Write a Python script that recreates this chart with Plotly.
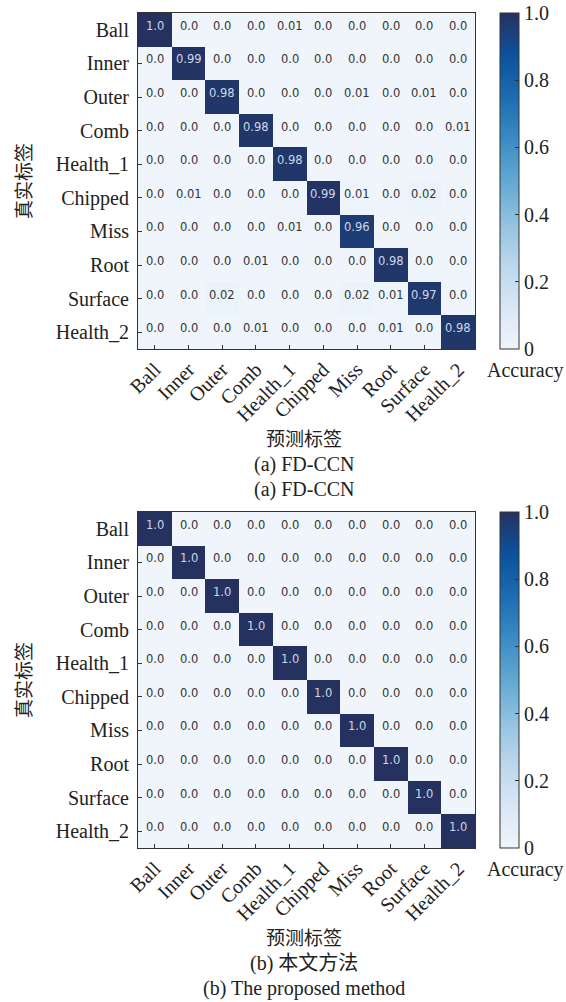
import plotly.graph_objects as go

classes = ["Ball", "Inner", "Outer", "Comb", "Health_1", "Chipped", "Miss", "Root", "Surface", "Health_2"]

fdccn = [
    [1.0, 0.0, 0.0, 0.0, 0.01, 0.0, 0.0, 0.0, 0.0, 0.0],
    [0.0, 0.99, 0.0, 0.0, 0.0, 0.0, 0.0, 0.0, 0.0, 0.0],
    [0.0, 0.0, 0.98, 0.0, 0.0, 0.0, 0.01, 0.0, 0.01, 0.0],
    [0.0, 0.0, 0.0, 0.98, 0.0, 0.0, 0.0, 0.0, 0.0, 0.01],
    [0.0, 0.0, 0.0, 0.0, 0.98, 0.0, 0.0, 0.0, 0.0, 0.0],
    [0.0, 0.01, 0.0, 0.0, 0.0, 0.99, 0.01, 0.0, 0.02, 0.0],
    [0.0, 0.0, 0.0, 0.0, 0.01, 0.0, 0.96, 0.0, 0.0, 0.0],
    [0.0, 0.0, 0.0, 0.01, 0.0, 0.0, 0.0, 0.98, 0.0, 0.0],
    [0.0, 0.0, 0.02, 0.0, 0.0, 0.0, 0.02, 0.01, 0.97, 0.0],
    [0.0, 0.0, 0.0, 0.01, 0.0, 0.0, 0.0, 0.01, 0.0, 0.98],
]

proposed = [
    [1.0, 0.0, 0.0, 0.0, 0.0, 0.0, 0.0, 0.0, 0.0, 0.0],
    [0.0, 1.0, 0.0, 0.0, 0.0, 0.0, 0.0, 0.0, 0.0, 0.0],
    [0.0, 0.0, 1.0, 0.0, 0.0, 0.0, 0.0, 0.0, 0.0, 0.0],
    [0.0, 0.0, 0.0, 1.0, 0.0, 0.0, 0.0, 0.0, 0.0, 0.0],
    [0.0, 0.0, 0.0, 0.0, 1.0, 0.0, 0.0, 0.0, 0.0, 0.0],
    [0.0, 0.0, 0.0, 0.0, 0.0, 1.0, 0.0, 0.0, 0.0, 0.0],
    [0.0, 0.0, 0.0, 0.0, 0.0, 0.0, 1.0, 0.0, 0.0, 0.0],
    [0.0, 0.0, 0.0, 0.0, 0.0, 0.0, 0.0, 1.0, 0.0, 0.0],
    [0.0, 0.0, 0.0, 0.0, 0.0, 0.0, 0.0, 0.0, 1.0, 0.0],
    [0.0, 0.0, 0.0, 0.0, 0.0, 0.0, 0.0, 0.0, 0.0, 1.0],
]

cbar_vals = [0, 0.2, 0.4, 0.6, 0.8, 1.0]
cbar_text = ["0", "0.2", "0.4", "0.6", "0.8", "1.0"]

W, H = 566, 1002
scale = [
    [0.0, "#eff5fb"], [0.125, "#d8e7f5"], [0.25, "#bcd7ec"], [0.375, "#92c2df"],
    [0.5, "#62a8d3"], [0.625, "#3a8bc3"], [0.75, "#1d6cb1"], [0.875, "#0c519c"],
    [1.0, "#25325f"],
]

SERIF = "Liberation Serif, Times New Roman, serif"
CJK = "Noto Sans CJK SC"

def py(px):
    return 1 - px / H

fig = go.Figure()
xdom = [138 / W, 475 / W]
panels = [
    dict(z=fdccn, top=13, bot=349, xa="x", ya="y", ca="coloraxis",
         sub=["(a) FD-CCN", "(a) FD-CCN"]),
    dict(z=proposed, top=512, bot=848, xa="x2", ya="y2", ca="coloraxis2",
         sub=["(b) 本文方法", "(b) The proposed method"]),
]

annotations = []
cx = 0.5 * (xdom[0] + xdom[1]) - 0.004
for i, p in enumerate(panels):
    fig.add_trace(go.Heatmap(z=p["z"], x=classes, y=classes, xaxis=p["xa"], yaxis=p["ya"],
                             coloraxis=p["ca"], xgap=0, ygap=0, hoverinfo="skip"))
    for r, row in enumerate(p["z"]):
        for c, v in enumerate(row):
            annotations.append(dict(
                x=classes[c], y=classes[r], xref=p["xa"], yref=p["ya"], text=str(v),
                showarrow=False, yshift=4,
                font=dict(family="DejaVu Sans", size=11.5,
                          color="#cfd7e6" if v > 0.5 else "#333333")))
    annotations.append(dict(x=cx, y=py(p["bot"] + 88), xref="paper", yref="paper",
                            text="预测标签", showarrow=False, yanchor="middle",
                            font=dict(family=CJK, size=19, color="#222")))
    annotations.append(dict(x=cx, y=py(p["bot"] + 115), xref="paper", yref="paper",
                            text=p["sub"][0], showarrow=False, yanchor="middle",
                            font=dict(family=SERIF if i == 0 else SERIF + ", " + CJK, size=20, color="#222")))
    annotations.append(dict(x=cx, y=py(p["bot"] + 140), xref="paper", yref="paper",
                            text=p["sub"][1], showarrow=False, yanchor="middle",
                            font=dict(family=SERIF, size=20, color="#222")))
    annotations.append(dict(x=22 / W, y=py((p["top"] + p["bot"]) / 2), xref="paper", yref="paper",
                            text="真实标签", showarrow=False, textangle=-90,
                            xanchor="center", yanchor="middle",
                            font=dict(family=CJK, size=19, color="#222")))
    annotations.append(dict(x=525 / W, y=py(p["bot"] + 21), xref="paper", yref="paper",
                            text="Accuracy", showarrow=False, xanchor="center", yanchor="middle",
                            font=dict(family=SERIF, size=20, color="#222")))

    ydom = [py(p["bot"]), py(p["top"])]
    axis_common = dict(showline=True, linecolor="#333", linewidth=1, mirror=True,
                       ticks="inside", ticklen=4, tickcolor="#333", showgrid=False,
                       zeroline=False, tickfont=dict(family=SERIF, size=20, color="#222"),
                       automargin=False)
    xkey = "xaxis" if i == 0 else "xaxis2"
    ykey = "yaxis" if i == 0 else "yaxis2"
    fig.update_layout(**{
        xkey: dict(domain=xdom, anchor=p["ya"], tickangle=-45, **axis_common),
        ykey: dict(domain=ydom, anchor=p["xa"], autorange="reversed",
                   ticklabelstandoff=4, **axis_common),
        p["ca"]: dict(cmin=0, cmax=1, colorscale=scale,
                      colorbar=dict(x=500 / W, xanchor="left", thickness=19, thicknessmode="pixels",
                                    len=(p["bot"] - p["top"]) / H, lenmode="fraction",
                                    y=py((p["top"] + p["bot"]) / 2), yanchor="middle",
                                    xpad=0, ypad=0, outlinewidth=1, outlinecolor="#333",
                                    tickvals=cbar_vals, ticktext=cbar_text, ticks="inside",
                                    ticklen=4, tickcolor="#333",
                                    tickfont=dict(family=SERIF, size=20, color="#222"))),
    })

fig.update_layout(width=W, height=H, margin=dict(l=0, r=0, t=0, b=0),
                  paper_bgcolor="white", plot_bgcolor="white", annotations=annotations,
                  showlegend=False)
fig.write_html("out.html", config={"displayModeBar": False},
               post_script="document.body.style.margin='0';document.body.style.padding='0';"
                           "document.body.style.overflow='hidden';")
